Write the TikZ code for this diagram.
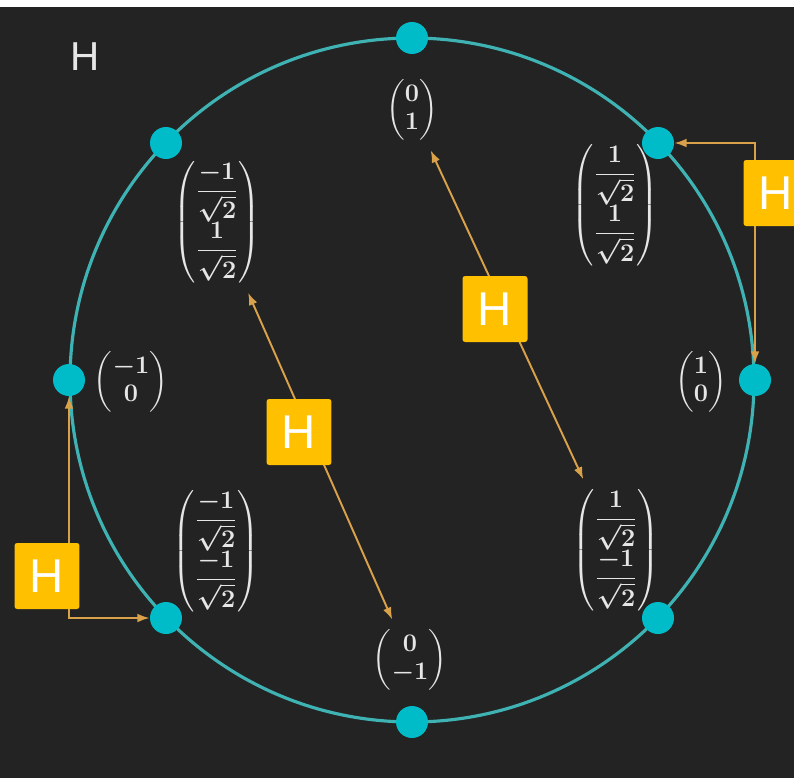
\documentclass[tikz,border=0pt]{standalone}
\usepackage{amsmath}
\usepackage{fontspec}
\setsansfont{Liberation Sans}
\usepackage{tikz}
\usetikzlibrary{arrows.meta,positioning,calc}

\definecolor{bgdark}{HTML}{232323}
\definecolor{ringteal}{HTML}{3FB3B3}
\definecolor{dotcyan}{HTML}{00BCC8}
\definecolor{gateyellow}{HTML}{FFC000}
\definecolor{wireorange}{HTML}{D9A24A}
\definecolor{vectext}{HTML}{E6E6E6}

\begin{document}
\begin{tikzpicture}[x=0.02cm, y=-0.02cm,
    every node/.style={inner sep=0pt},
    qdot/.style={circle, fill=dotcyan, minimum size=0.64cm},
    qvec/.style={text=vectext, font=\fontsize{14}{16}\selectfont\boldmath},
    hbox/.style={fill=gateyellow, rounded corners=1.5pt, minimum width=1.3cm, minimum height=1.32cm, text=white, font=\sffamily\fontsize{27}{30}\selectfont},
    hwire/.style={draw=wireorange, line width=1.1pt, {Latex[length=7pt,width=5pt]}-{Latex[length=7pt,width=5pt]}}]
    \useasboundingbox (0,0) rectangle (794,778);
    \fill[white] (0,0) rectangle (794,778);
    \fill[bgdark] (0,7) rectangle (794,778);

    \node[text=vectext, font=\sffamily\fontsize{23}{26}\selectfont] (title) at (85,57) {H};

    % Bloch-style ring with the eight states
    \draw[ringteal, line width=1.8pt] (412,380) circle [radius=342];
    \node[qdot] (dT) at (412,38) {};
    \node[qdot] (dTR) at (658,143) {};
    \node[qdot] (dR) at (755,380) {};
    \node[qdot] (dBR) at (658,618) {};
    \node[qdot] (dB) at (412,722) {};
    \node[qdot] (dBL) at (166,618) {};
    \node[qdot] (dL) at (69,380) {};
    \node[qdot] (dTL) at (166,143) {};

    \node[qvec] (vT) at (412,110) {$\begin{pmatrix}0\\1\end{pmatrix}$};
    \node[qvec] (vTR) at (615,205) {$\begin{pmatrix}\dfrac{1}{\sqrt{2}}\\[7pt]\dfrac{1}{\sqrt{2}}\end{pmatrix}$};
    \node[qvec] (vTL) at (217,222) {$\begin{pmatrix}\dfrac{-1}{\sqrt{2}}\\[7pt]\dfrac{1}{\sqrt{2}}\end{pmatrix}$};
    \node[qvec] (vL) at (131,382) {$\begin{pmatrix}-1\\0\end{pmatrix}$};
    \node[qvec] (vR) at (701,382) {$\begin{pmatrix}1\\0\end{pmatrix}$};
    \node[qvec] (vBL) at (216,551) {$\begin{pmatrix}\dfrac{-1}{\sqrt{2}}\\[7pt]\dfrac{-1}{\sqrt{2}}\end{pmatrix}$};
    \node[qvec] (vBR) at (616,550) {$\begin{pmatrix}\dfrac{1}{\sqrt{2}}\\[7pt]\dfrac{-1}{\sqrt{2}}\end{pmatrix}$};
    \node[qvec] (vB) at (410,660) {$\begin{pmatrix}0\\-1\end{pmatrix}$};

    % Hadamard swaps
    \draw[hwire, shorten <=6pt, shorten >=6pt] (vTL) -- (vB);
    \draw[hwire, shorten <=6pt, shorten >=6pt] (vT) -- (vBR);
    \draw[hwire] (dTR) -| (dR);
    \draw[hwire] (dL) |- (dBL);

    \node[hbox] (hmid) at (299,432) {H};
    \node[hbox] (hcen) at (495,309) {H};
    \node[hbox] (hright) at (776,193) {H};
    \node[hbox] (hleft) at (47,576) {H};
\end{tikzpicture}
\end{document}
